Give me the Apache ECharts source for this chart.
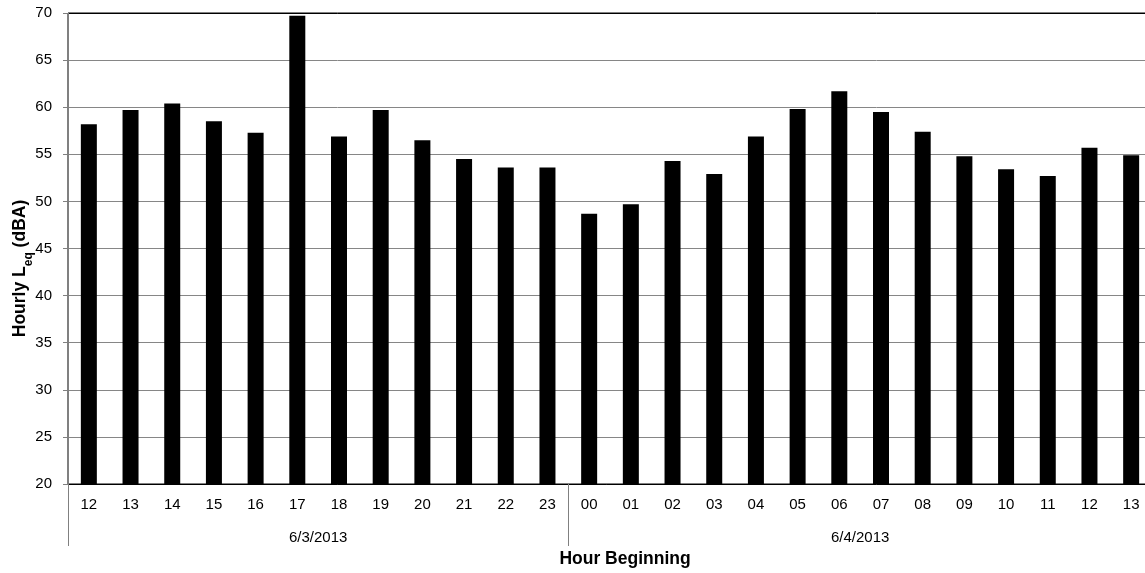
<!DOCTYPE html>
<html>
<head>
<meta charset="utf-8">
<script src="https://cdn.jsdelivr.net/npm/echarts@6/dist/echarts.min.js"></script>
<style>
html,body{margin:0;padding:0;background:#fff;}
#chart{width:1145px;height:573px;}
</style>
</head>
<body>
<div id="chart"></div>
<script>
const hours = ['12','13','14','15','16','17','18','19','20','21','22','23',
               '00','01','02','03','04','05','06','07','08','09','10','11','12','13'];
const leq = [58.2,59.7,60.4,58.5,57.3,69.7,56.9,59.7,56.5,54.5,53.6,53.6,
             48.7,49.7,54.3,52.9,56.9,59.8,61.7,59.5,57.4,54.8,53.4,52.7,55.7,54.9];
const dates = ['6/3/2013','6/4/2013'];
const yTicks = [20,25,30,35,40,45,50,55,60,65,70];

// day boundaries derived from the hour list (a new day starts at '00')
const bounds = [0];
hours.forEach((h, i) => { if (i > 0 && h === '00') bounds.push(i); });
bounds.push(hours.length);
const centers = dates.map((d, i) => (bounds[i] + bounds[i + 1]) / 2);

const FONT = 'Liberation Sans, Arial, sans-serif';
const chart = echarts.init(document.getElementById('chart'));
chart.setOption({
  animation: false,
  backgroundColor: '#fff',
  textStyle: { fontFamily: FONT },
  grid: {
    left: 68, top: 13, width: 1084, height: 471,
    outerBoundsMode: 'none', containLabel: false,
    show: true, borderColor: '#000', borderWidth: 1, backgroundColor: 'transparent'
  },
  xAxis: [{
    type: 'category',
    data: hours,
    position: 'bottom',
    axisLine: { show: true, lineStyle: { color: '#000', width: 1 } },
    axisTick: { show: false },
    axisLabel: { fontSize: 15, color: '#000', margin: 13, fontFamily: FONT, interval: 0 },
    splitLine: { show: false },
    name: 'Hour Beginning',
    nameLocation: 'middle',
    nameGap: 66,
    nameMoveOverlap: false,
    nameTextStyle: { fontSize: 17.5, fontWeight: 'bold', color: '#000', fontFamily: FONT, padding: [0, 0, 0, 30] }
  }, {
    type: 'value',
    min: 0,
    max: hours.length,
    position: 'bottom',
    axisLine: { show: false },
    axisTick: { show: true, customValues: bounds, length: 62, lineStyle: { color: '#808080', width: 1 } },
    axisLabel: {
      show: true, customValues: centers, margin: 46, fontSize: 15, color: '#000', fontFamily: FONT,
      formatter: v => { const k = centers.indexOf(v); return k >= 0 ? dates[k] : ''; }
    },
    splitLine: { show: false }
  }],
  yAxis: {
    type: 'value',
    min: yTicks[0],
    max: yTicks[yTicks.length - 1],
    interval: 5,
    axisLine: { show: true, lineStyle: { color: '#808080', width: 1 } },
    axisTick: { show: true, length: 5, lineStyle: { color: '#808080' } },
    axisLabel: { fontSize: 15, color: '#000', margin: 16, fontFamily: FONT },
    splitLine: { show: true, lineStyle: { color: yTicks.map(v => v === yTicks[yTicks.length - 1] ? '#000' : '#868686'), width: 1 } },
    name: '{m|Hourly L}{s|eq}{m| (dBA)}',
    nameLocation: 'middle',
    nameRotate: 90,
    nameGap: 33,
    nameMoveOverlap: false,
    nameTextStyle: {
      padding: [0, 40, 0, 0],
      rich: {
        m: { fontSize: 17.5, fontWeight: 'bold', color: '#000', fontFamily: FONT, lineHeight: 24, verticalAlign: 'top' },
        s: { fontSize: 12, fontWeight: 'bold', color: '#000', fontFamily: FONT, lineHeight: 11, verticalAlign: 'bottom' }
      }
    }
  },
  series: [{
    type: 'bar',
    xAxisIndex: 0,
    data: leq,
    barWidth: 16,
    itemStyle: { color: '#000' }
  }]
});
</script>
</body>
</html>
